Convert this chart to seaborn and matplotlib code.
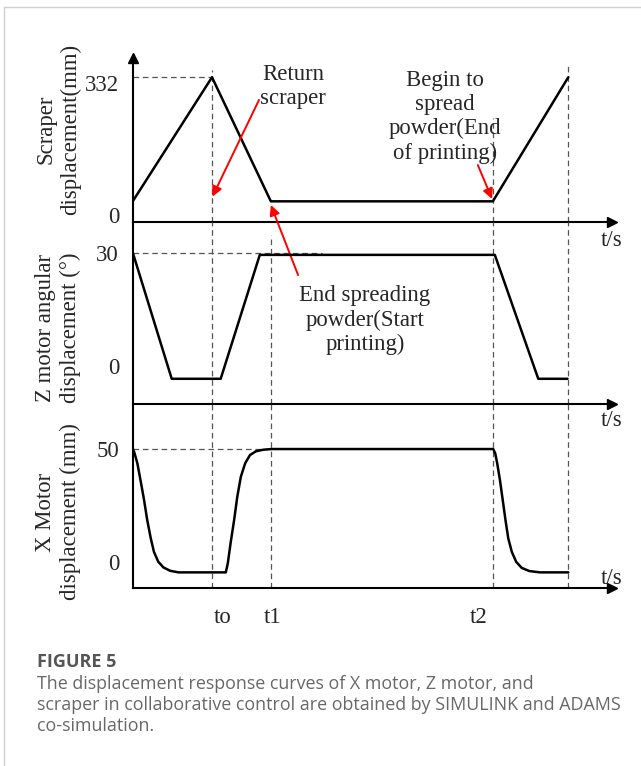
import matplotlib
matplotlib.use("Agg")
import matplotlib.pyplot as plt
import matplotlib.transforms as mtransforms
import seaborn as sns
from matplotlib.lines import Line2D

# ---------------- data ----------------
# time marks (arbitrary time units)
event_names = ["to", "t1", "t2", "end"]
event_times = [2.0, 3.49, 9.11, 11.01]

# scraper displacement (mm)
scraper_t = [0.0, 2.0, 3.49, 9.11, 11.02]
scraper_y = [49, 332, 48, 48, 332]

# Z motor angular displacement (deg)
z_t = [0.0, 0.98, 2.22, 3.21, 9.16, 10.26, 11.0]
z_y = [30, -3.5, -3.5, 29.6, 29.6, -3.5, -3.5]

# X motor displacement (mm)
x_t = [0.0, 0.04, 0.11, 0.19, 0.28, 0.36, 0.45, 0.53, 0.64, 0.77, 0.94, 1.15,
       2.35, 2.40, 2.47, 2.56, 2.64, 2.73, 2.84, 2.96, 3.11, 3.30, 3.51,
       9.12, 9.17, 9.22, 9.29, 9.36, 9.43, 9.50, 9.59, 9.70, 9.84, 10.03, 10.30, 11.02]
x_y = [50, 48.1, 43.7, 36.2, 27.4, 18.5, 10.4, 4.4, 0.0, -2.5, -4.0, -4.7,
       -4.7, -0.7, 8.2, 18.5, 28.8, 37.7, 43.7, 47.3, 49.0, 49.7, 50,
       50, 48.1, 43.7, 36.2, 27.4, 18.5, 10.4, 4.4, 0.0, -2.7, -4.1, -4.7, -4.7]

scraper_ticks = [0, 332]
z_ticks = [0, 30]
x_ticks = [0, 50]
time_tick_labels = ["to", "t1", "t2"]
time_tick_pos = [2.28, 3.54, 8.74]

ylabels = ["Scraper\ndisplacement(mm)",
           "Z motor angular\ndisplacement (°)",
           "X Motor\ndisplacement (mm)"]
annot_return = "Return\nscraper"
annot_begin = "Begin to\nspread\npowder(End\nof printing)"
annot_end = "End spreading\npowder(Start\nprinting)"
caption_title = "FIGURE 5"
caption_lines = ["The displacement response curves of X motor, Z motor, and",
                 "scraper in collaborative control are obtained by SIMULINK and ADAMS",
                 "co-simulation."]

# ---------------- style ----------------
sns.set_style("white")
plt.rcParams["font.family"] = ["Liberation Serif", "DejaVu Serif"]
plt.rcParams["axes.unicode_minus"] = False

W, H = 641, 766
fig = plt.figure(figsize=(W / 100, H / 100), dpi=100)

def fx(px):
    return px / W

def fy(py):
    return 1 - py / H

x_left, x_right = 133, 612
xmax = (x_right - x_left) / 39.5
FS = 16.4
LW_AX = 1.5
LW_CURVE = 1.8
DASH_KW = dict(color="#555555", lw=0.9, linestyles=(0, (4.5, 3)))

ax1 = fig.add_axes([fx(x_left), fy(222.3), fx(x_right - x_left), (222.3 - 58) / H])
ax2 = fig.add_axes([fx(x_left), fy(403.5), fx(x_right - x_left), (403.5 - 222.3) / H])
ax3 = fig.add_axes([fx(x_left), fy(587.7), fx(x_right - x_left), (587.7 - 403.5) / H])

ylims = [(0, 376), (-10.1, 38.3), (-11.5, 70.2)]
for ax, yl in zip([ax1, ax2, ax3], ylims):
    ax.set_facecolor("none")
    ax.set_xlim(0, xmax)
    ax.set_ylim(*yl)
    for s in ["top", "right"]:
        ax.spines[s].set_visible(False)
    for s in ["left", "bottom"]:
        ax.spines[s].set_color("black")
        ax.spines[s].set_linewidth(LW_AX)
    ax.tick_params(axis="y", length=0, pad=10, labelsize=FS)
    ax.tick_params(axis="x", length=0)
    ax.set_xlabel("")
    ax.set_ylabel("")
    # x-axis arrow head
    ax.plot(1, 0, marker=">", ms=7, color="black", transform=ax.transAxes, clip_on=False)

ax1.plot(0, 1, marker="^", ms=7, color="black", transform=ax1.transAxes, clip_on=False)

# ---------------- dashed guide lines ----------------
to_t, t1_t, t2_t, end_t = event_times
ax1.vlines(to_t, 0, 349, **DASH_KW)
ax1.vlines(t2_t, 0, 238.6, **DASH_KW)
ax1.vlines(end_t, 0, 360, **DASH_KW)
ax1.hlines(scraper_ticks[1], 0, to_t, **DASH_KW)

ax2.vlines([to_t, t2_t, end_t], ylims[1][0], ylims[1][1], **DASH_KW)
ax2.vlines(t1_t, ylims[1][0], 34.9, **DASH_KW)
ax2.hlines(z_ticks[1], 0, 4.78, **DASH_KW)

ax3.vlines(event_times, ylims[2][0], ylims[2][1], **DASH_KW)
ax3.hlines(x_ticks[1], 0, 3.4, **DASH_KW)

# ---------------- curves ----------------
sns.lineplot(x=scraper_t, y=scraper_y, ax=ax1, color="black", lw=LW_CURVE,
             sort=False, estimator=None, zorder=3)
sns.lineplot(x=z_t, y=z_y, ax=ax2, color="black", lw=LW_CURVE,
             sort=False, estimator=None, zorder=3)
sns.lineplot(x=x_t, y=x_y, ax=ax3, color="black", lw=LW_CURVE,
             sort=False, estimator=None, zorder=3)
for ax in (ax1, ax2, ax3):
    for ln in ax.get_lines():
        ln.set_solid_joinstyle("round")

# ---------------- ticks ----------------
ax1.set_yticks(scraper_ticks)
ax2.set_yticks(z_ticks)
ax3.set_yticks(x_ticks)
ax1.set_xticks([])
ax2.set_xticks([])
ax3.set_xticks(time_tick_pos)
ax3.set_xticklabels(time_tick_labels)
ax3.tick_params(axis="x", length=0, pad=14, labelsize=FS)

# small vertical nudges of the scraper tick labels (as in the reference)
lbls = ax1.get_yticklabels()
lbls[0].set_transform(lbls[0].get_transform() +
                      mtransforms.ScaledTranslation(0, 5 / 72, fig.dpi_scale_trans))
lbls[1].set_transform(lbls[1].get_transform() +
                      mtransforms.ScaledTranslation(0, -4 / 72, fig.dpi_scale_trans))

# ---------------- labels ----------------
for lab, cy in zip(ylabels, [129, 328, 512]):
    fig.text(fx(58), fy(cy), lab, rotation=90, ha="center", va="center",
             multialignment="center", fontsize=FS, linespacing=1.22)

for cy in [240.7, 420, 578]:
    fig.text(fx(612), fy(cy), "t/s", ha="center", va="center", fontsize=FS)

# ---------------- annotations ----------------
ARROW = dict(arrowstyle="-|>", color="red", lw=1.4, mutation_scale=15,
             shrinkA=0, shrinkB=0)
ax1.text(4.05, 311, annot_return, ha="center", va="center", fontsize=FS,
         multialignment="center", linespacing=1.2)
ax1.annotate("", xy=(2.01, 58.6), xytext=(3.19, 280), arrowprops=ARROW,
             annotation_clip=False)

ax1.text(7.9, 241, annot_begin, ha="center", va="center", fontsize=FS,
         multialignment="center", linespacing=1.18)
ax1.annotate("", xy=(9.09, 53.4), xytext=(8.73, 131), arrowprops=ARROW,
             annotation_clip=False)

ax2.text(5.87, 12.2, annot_end, ha="center", va="center", fontsize=FS,
         multialignment="center", linespacing=1.2)
ax1.annotate("", xy=(3.49, 39.6), xytext=(4.18, 24.2), textcoords=ax2.transData,
             arrowprops=ARROW, annotation_clip=False)

# ---------------- frame & caption ----------------
fig.add_artist(Line2D([fx(4), fx(4)], [0, fy(7)], transform=fig.transFigure,
                      color="#d0d0d0", lw=1))
fig.add_artist(Line2D([fx(4), 1], [fy(7), fy(7)], transform=fig.transFigure,
                      color="#d0d0d0", lw=1))

fig.text(fx(37), fy(666.7), caption_title, fontsize=13, fontweight="bold",
         color="#555555", family=["Open Sans", "DejaVu Sans"], va="baseline")
for line, by in zip(caption_lines, [689, 710, 731]):
    fig.text(fx(37), fy(by), line, fontsize=12.9, color="#686868",
             family=["Open Sans", "DejaVu Sans"], va="baseline")

fig.savefig("out.png", dpi=100, facecolor="white")
